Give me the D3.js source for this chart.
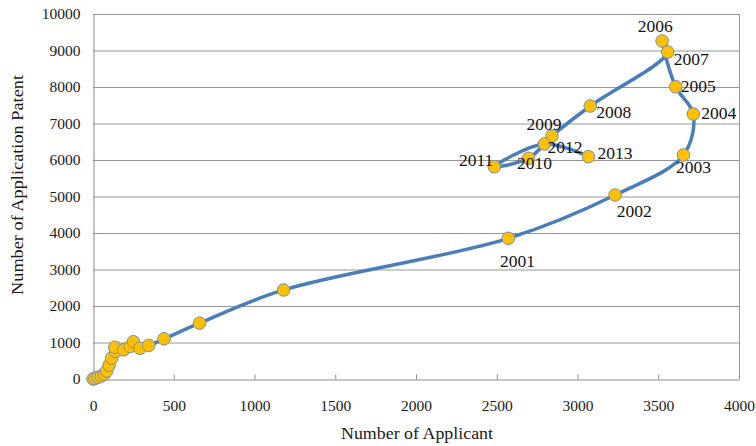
<!DOCTYPE html>
<html>
<head>
<meta charset="utf-8">
<script src="https://cdn.jsdelivr.net/npm/d3@7"></script>
<style>
  html, body { margin: 0; padding: 0; background: #fff; }
  svg { display: block; }
</style>
</head>
<body>
<div id="chart"></div>
<script>
// Applicants vs application patents by year (early years unlabeled)
const years = [1983, 1984, 1985, 1986, 1987, 1988, 1989, 1990, 1991, 1992, 1993, 1994, 1995, 1996, 1997, 1998, 1999, 2000,
               2001, 2002, 2003, 2004, 2005, 2006, 2007, 2008, 2009, 2010, 2011, 2012, 2013];
const applicants = [0, 12, 30, 50, 70, 85, 100, 115, 140, 135, 190, 230, 250, 290, 345, 440, 660, 1180,
                    2572, 3233, 3656, 3717, 3608, 3524, 3559, 3079, 2842, 2697, 2485, 2796, 3068];
const patents = [0, 15, 45, 80, 130, 220, 380, 570, 760, 870, 800, 890, 1020, 840, 920, 1100, 1530, 2440,
                 3854, 5041, 6137, 7260, 8008, 9260, 8959, 7479, 6658, 6046, 5816, 6438, 6092];
const labeledFrom = 2001;

const xTicks = [0, 500, 1000, 1500, 2000, 2500, 3000, 3500, 4000];
const yTicks = [0, 1000, 2000, 3000, 4000, 5000, 6000, 7000, 8000, 9000, 10000];

const xTitle = 'Number of Applicant';
const yTitle = 'Number of Application Patent';

// label placement around each marker: [dx, dy, anchor]
const labelPlace = {
  2001: [9, 29, 'middle'], 2002: [19, 22, 'middle'], 2003: [10, 18, 'middle'],
  2004: [8, 5, 'start'],   2005: [5, 5, 'start'],    2006: [-7, -9, 'middle'],
  2007: [6, 13, 'start'],  2008: [6, 12, 'start'],   2009: [-8, -6, 'middle'],
  2010: [6, 11, 'middle'], 2011: [-1, -1, 'end'],    2012: [3, 9, 'start'],
  2013: [9, 2, 'start']
};

const W = 756, H = 446;
const plot = { left: 93, right: 739, top: 14, bottom: 379 };
const FONT = "'Liberation Serif', 'Times New Roman', serif";

const svg = d3.select('#chart').append('svg').attr('width', W).attr('height', H);

const x = d3.scaleLinear().domain([0, 4000]).range([plot.left, plot.right]);
const y = d3.scaleLinear().domain([0, 10000]).range([plot.bottom, plot.top]);

// gridlines
svg.append('g')
  .selectAll('line')
  .data(yTicks.filter(d => d > 0))
  .join('line')
  .attr('x1', plot.left).attr('x2', plot.right)
  .attr('y1', d => y(d) + 0.5).attr('y2', d => y(d) + 0.5)
  .attr('stroke', '#969696').attr('stroke-width', 1);

// right border
svg.append('line')
  .attr('x1', plot.right + 0.5).attr('x2', plot.right + 0.5)
  .attr('y1', plot.top).attr('y2', plot.bottom)
  .attr('stroke', '#969696');

// x axis (inside ticks)
const xAxis = svg.append('g')
  .attr('transform', `translate(0,${plot.bottom + 0.5})`)
  .call(d3.axisBottom(x).tickValues(xTicks).tickSize(-5).tickSizeOuter(0).tickPadding(20).tickFormat(d3.format('d')));
xAxis.select('.domain').attr('stroke', '#8a8a8a');
xAxis.selectAll('.tick line').attr('stroke', '#8a8a8a');
xAxis.selectAll('.tick text')
  .attr('font-family', FONT).attr('font-size', 15.5).attr('fill', '#1a1a1a')
  .attr('dy', '0.71em');

// y axis
const yAxis = svg.append('g')
  .attr('transform', `translate(${plot.left + 0.5},0)`)
  .call(d3.axisLeft(y).tickValues(yTicks).tickSize(0).tickPadding(13).tickFormat(d3.format('d')));
yAxis.select('.domain').attr('stroke', '#8a8a8a');
yAxis.selectAll('.tick text')
  .attr('font-family', FONT).attr('font-size', 15.5).attr('fill', '#1a1a1a');

// axis titles
svg.append('text')
  .attr('x', (plot.left + plot.right) / 2 + 1).attr('y', 439)
  .attr('text-anchor', 'middle')
  .attr('font-family', FONT).attr('font-size', 16.5).attr('fill', '#1a1a1a')
  .attr('textLength', 152).attr('lengthAdjust', 'spacingAndGlyphs')
  .text(xTitle);

svg.append('text')
  .attr('transform', `translate(23,185) rotate(-90)`)
  .attr('text-anchor', 'middle')
  .attr('font-family', FONT).attr('font-size', 16.5).attr('fill', '#1a1a1a')
  .attr('textLength', 220).attr('lengthAdjust', 'spacingAndGlyphs')
  .text(yTitle);

// series
const pts = years.map((yr, i) => ({ year: yr, a: applicants[i], p: patents[i] }));

const line = d3.line()
  .x(d => x(d.a)).y(d => y(d.p))
  .curve(d3.curveCatmullRom.alpha(0.5));

svg.append('path')
  .datum(pts)
  .attr('d', line)
  .attr('fill', 'none')
  .attr('stroke', '#4A7EBB')
  .attr('stroke-width', 3.5)
  .attr('stroke-linejoin', 'round');

svg.append('g')
  .selectAll('circle')
  .data(pts)
  .join('circle')
  .attr('cx', d => x(d.a)).attr('cy', d => y(d.p))
  .attr('r', 6.3)
  .attr('fill', '#FFC000')
  .attr('stroke', '#7d8fa8')
  .attr('stroke-width', 1);

// year labels
svg.append('g')
  .selectAll('text')
  .data(pts.filter(d => d.year >= labeledFrom))
  .join('text')
  .attr('x', d => x(d.a) + labelPlace[d.year][0])
  .attr('y', d => y(d.p) + labelPlace[d.year][1])
  .attr('text-anchor', d => labelPlace[d.year][2])
  .attr('font-family', FONT).attr('font-size', 17.5).attr('fill', '#111')
  .text(d => d.year);
</script>
</body>
</html>
